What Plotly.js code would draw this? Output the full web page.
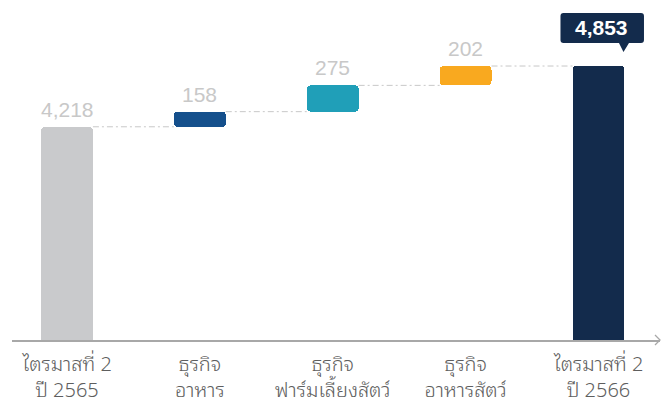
<!DOCTYPE html>
<html>
<head>
<meta charset="utf-8">
<script src="https://cdn.plot.ly/plotly-3.0.1.min.js"></script>
<style>
  html, body { margin: 0; padding: 0; background: #ffffff; }
  #chart { width: 665px; height: 405px; }
</style>
</head>
<body>
<div id="chart"></div>
<script>
// ---- data ----
const categories = [
  "ไตรมาสที่ 2<br>ปี 2565",
  "ธุรกิจ<br>อาหาร",
  "ธุรกิจ<br>ฟาร์มเลี้ยงสัตว์",
  "ธุรกิจ<br>อาหารสัตว์",
  "ไตรมาสที่ 2<br>ปี 2566"
];
const values = [4218, 158, 275, 202, 4853];
const measures = ["absolute", "relative", "relative", "relative", "total"];

// ---- styles ----
const barColors = ["#C9CACC", "#15508C", "#209FB8", "#F9A91F", "#132B4C"];
const labelColor = "#C8C8C8";
const calloutColor = "#132B4C";
const barWidth = 0.39;
const thaiFont = "Noto Sans Thai Looped, Loma, Garuda, Norasi, Noto Sans Thai, Noto Sans, sans-serif";

// ---- derive waterfall bases from data ----
const bases = [], heights = [], tops = [];
let running = 0;
values.forEach((v, i) => {
  if (measures[i] === "absolute") { running = v; bases.push(0); heights.push(v); }
  else if (measures[i] === "total") { bases.push(0); heights.push(running); }
  else { bases.push(running); heights.push(v); running += v; }
  tops.push(bases[i] + heights[i]);
});

const fmt = v => v.toLocaleString("en-US");

const trace = {
  type: "bar",
  x: categories,
  y: heights,
  base: bases,
  width: barWidth,
  marker: { color: barColors, cornerradius: 4, line: { width: 0 } },
  hoverinfo: "skip"
};

const shapes = [];
// connectors
for (let i = 0; i < values.length - 1; i++) {
  shapes.push({
    type: "line", xref: "x", yref: "y",
    x0: i + barWidth / 2, x1: i + 1 - barWidth / 2,
    y0: tops[i], y1: tops[i],
    line: { color: "#C8C8C8", width: 1, dash: "6px,3px,2px,3px" },
    layer: "below"
  });
}
// axis arrow head
shapes.push({
  type: "path", xref: "paper", yref: "paper",
  xsizemode: "pixel", ysizemode: "pixel",
  xanchor: 1, yanchor: 0,
  path: "M-5,5 L0,0 L-5,-5",
  line: { color: "#A8A8A8", width: 1.3 }
});
// callout for the total
const last = values.length - 1;
const r = 3;
const L = -38, R = 45.5, B = 23, T = 53;
const calloutPath =
  `M${L + r},${B} L20.5,${B} L25,14 L30.5,${B} L${R - r},${B} ` +
  `Q${R},${B} ${R},${B + r} L${R},${T - r} Q${R},${T} ${R - r},${T} ` +
  `L${L + r},${T} Q${L},${T} ${L},${T - r} L${L},${B + r} Q${L},${B} ${L + r},${B} Z`;
shapes.push({
  type: "path", xref: "x", yref: "y",
  xsizemode: "pixel", ysizemode: "pixel",
  xanchor: last, yanchor: tops[last],
  path: calloutPath,
  fillcolor: calloutColor,
  line: { width: 0 }
});

const annotations = [];
values.forEach((v, i) => {
  if (i === last) {
    annotations.push({
      x: i, y: tops[i], xref: "x", yref: "y",
      text: "<b>" + fmt(v) + "</b>", showarrow: false,
      yanchor: "middle", xanchor: "center",
      xshift: 3.5, yshift: 38.5,
      font: { family: "Liberation Sans, Arial, sans-serif", size: 21, color: "#ffffff" }
    });
  } else {
    annotations.push({
      x: i, y: tops[i], xref: "x", yref: "y",
      text: fmt(v), showarrow: false,
      yanchor: "bottom", xanchor: "center",
      yshift: 4,
      font: { family: "Liberation Sans, Arial, sans-serif", size: 21, color: labelColor }
    });
  }
});

const layout = {
  width: 665, height: 405,
  margin: { l: 12, r: 5, t: 0, b: 65, pad: 0 },
  paper_bgcolor: "#ffffff", plot_bgcolor: "#ffffff",
  showlegend: false,
  bargap: 0,
  xaxis: {
    type: "category",
    range: [-0.414, 4.463],
    showline: true, linecolor: "#A8A8A8", linewidth: 1.5,
    showgrid: false, zeroline: false, ticks: "",
    ticklabelstandoff: 5,
    tickfont: { family: thaiFont, size: 20, weight: 300, color: "#5E5E5E" },
    fixedrange: true
  },
  yaxis: {
    range: [1990, 5543],
    visible: false, showgrid: false, zeroline: false, fixedrange: true
  },
  shapes: shapes,
  annotations: annotations
};

Plotly.newPlot("chart", [trace], layout, { displayModeBar: false, staticPlot: true });
</script>
</body>
</html>
